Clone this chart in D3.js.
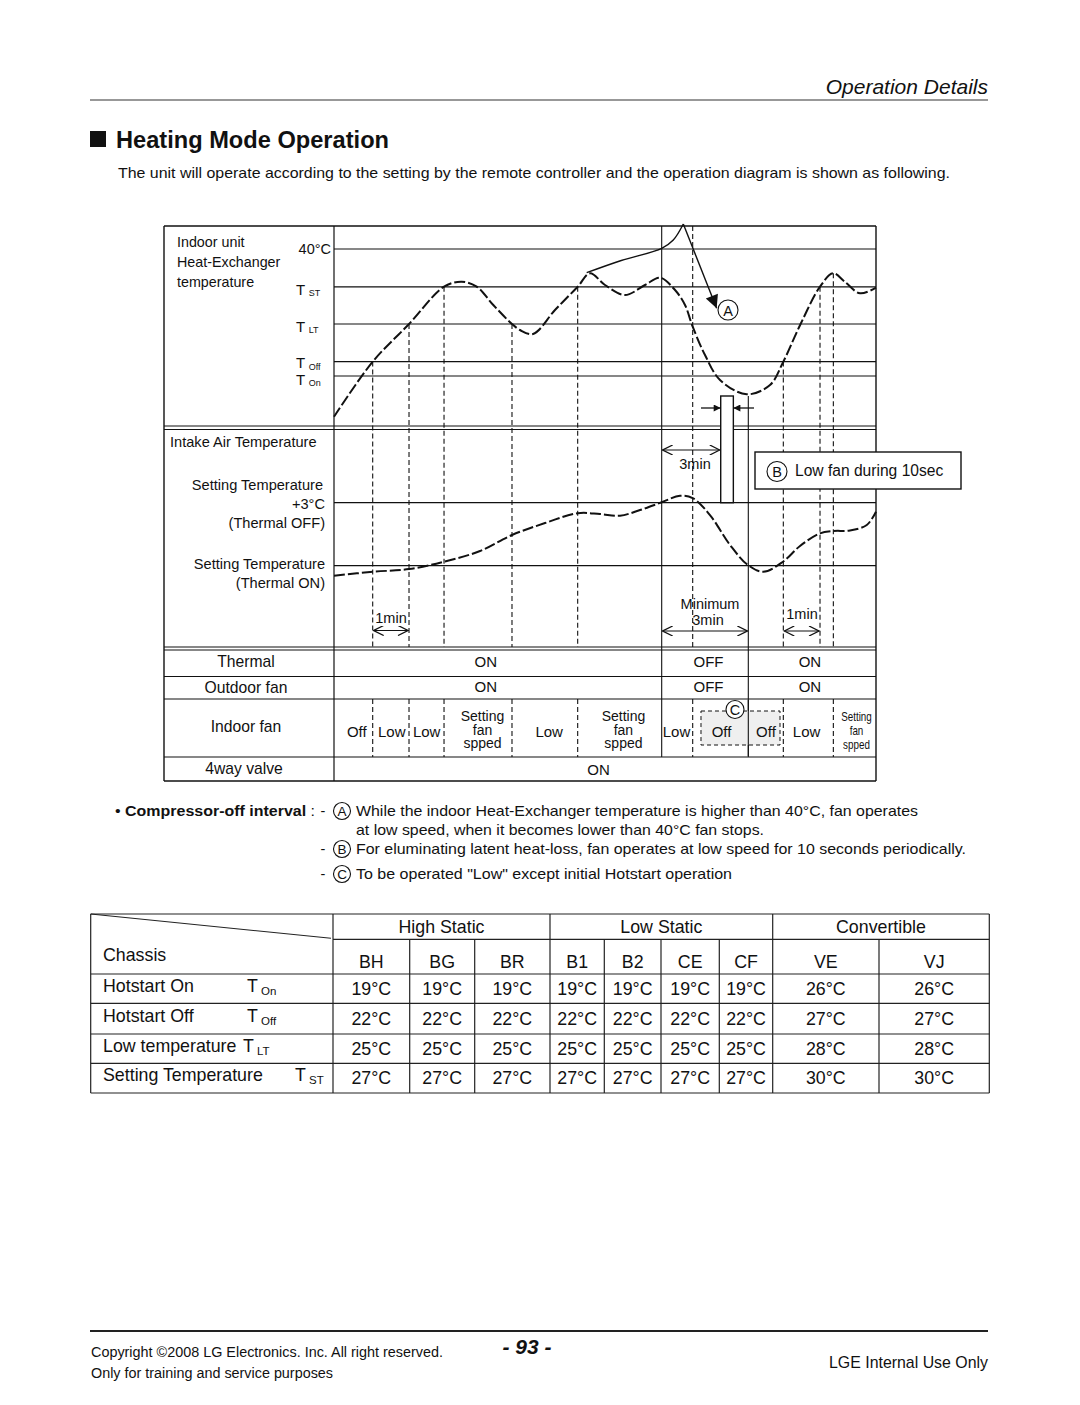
<!DOCTYPE html>
<html><head><meta charset="utf-8">
<script src="https://cdn.jsdelivr.net/npm/d3@7"></script>
<style>
body{margin:0;background:#fff}
svg{display:block}
text{font-family:"Liberation Sans",Arial,Helvetica,sans-serif;fill:#111}
</style>
</head><body>
<svg id="c" width="1080" height="1405"></svg>
<script>
// ---------------- DATA ----------------
// Indoor heat-exchanger temperature (schematic units 0..100 over time 0..100)
const hxLevelNames = ["40°C", "ST", "LT", "Off", "On"];
const hxLevelValues = [88.5, 69.6, 51, 32.2, 25];
const hxTime = [0,7.14,13.84,20.3,23.56,26.33,29.39,32.84,34.32,36.72,40.77,44.96,47.23,50,53.69,57.38,60.15,62.92,64.76,66.18,68.45,71.22,76.14,80.44,82.9,86,89.67,92.07,94.28,97.05,100];
const hxTemp = [4.65,32.15,51,69.65,72.15,69.65,60.5,51,48,46,58,69.65,76.35,70.5,65.5,70.5,74.15,68,60.5,49.65,35.5,23,15.85,20.5,32.15,50.5,69.65,76.35,72,66.35,69.15];
// overheating rise (solid) before compressor off, and arrow toward (A)
const hotTime = [46.62, 53, 60.46, 62.6, 64.45];
const hotTemp = [76.65, 82.75, 88.85, 93, 101];
const arrowA = [[64.45, 101], [70.6, 58.85]];

// Intake air temperature, °C relative to setting temperature
const intakeLevelNames = ["+3°C", "0"];
const intakeLevelValues = [3, 0];
const intakeTime = [0,7.2,13.84,20.3,26.94,32.84,38.93,44.96,49.08,52.77,56.46,60.46,63.84,66.18,69.37,73.06,76.38,79.21,82.84,85.98,89.67,92.07,95.2,98.3,100];
const intakeTemp = [-0.48,-0.29,-0.16,0.19,0.7,1.46,2.03,2.5,2.46,2.38,2.65,3.02,3.33,3.22,2.41,0.99,0.03,-0.29,0.19,0.94,1.54,1.65,1.68,1.94,2.57];

// Event (time) lines
const eventTime  = [7.14, 13.84, 20.3, 32.84, 44.96, 60.46, 66.18, 76.44, 82.9, 89.67, 92.13];
const eventSolid = [0,0,0,0,0,1,0,1,0,0,0];
const eventFrom  = [32.2, 51, 69.6, 51, 69.6, 100, 100, 15, 32.2, 69.6, 76.35]; // HX units where line starts
const eventInFanRow = [1,1,1,1,1,1,1,1,1,0,1];

// Pulse (low fan 10 sec)
const pulseTime = [71.35, 73.68];

// Status rows
const thermalTime = [28, 69.1, 87.8];
const thermalLabel = ["ON", "OFF", "ON"];
const outdoorTime = [28, 69.1, 87.8];
const outdoorLabel = ["ON", "OFF", "ON"];
const fanTime = [4.2, 10.65, 17.1, 27.4, 39.7, 53.4, 63.2, 71.5, 79.7, 87.2, 96.4];
const fanLabel = ["Off","Low","Low","Setting\nfan\nspped","Low","Setting\nfan\nspped","Low","Off","Off","Low","Setting\nfan\nspped"];
const valveTime = [48.8];
const valveLabel = ["ON"];
const cBoxTime = [67.71, 82.29];

// Notes
const notesLetters = ["A", "", "B", "C"];
const notesText = [
  "While the indoor Heat-Exchanger temperature is higher than 40°C, fan operates",
  "at low speed, when it becomes lower than 40°C fan stops.",
  "For eluminating latent heat-loss, fan operates at low speed for 10 seconds periodically.",
  "To be operated \"Low\" except initial Hotstart operation"
];

// Table
const groupNames = ["High Static", "Low Static", "Convertible"];
const groupSpan = [3, 4, 2];
const chassis = ["BH","BG","BR","B1","B2","CE","CF","VE","VJ"];
const rowNames = ["Hotstart On", "Hotstart Off", "Low temperature", "Setting Temperature"];
const rowSymbols = ["On", "Off", "LT", "ST"];
const hotstartOn  = [19,19,19,19,19,19,19,26,26];
const hotstartOff = [22,22,22,22,22,22,22,27,27];
const lowTemp     = [25,25,25,25,25,25,25,28,28];
const settingTemp = [27,27,27,27,27,27,27,30,30];

// ---------------- DRAW ----------------
const svg = d3.select("#c");
svg.append("rect").attr("width",1080).attr("height",1405).attr("fill","#fff");
const ink = "#111";

function T(x, y, s, o = {}) {
  const t = svg.append("text").attr("x", x).attr("y", y).attr("dy", "0.35em")
    .attr("font-size", o.size || 14).attr("text-anchor", o.anchor || "start").text(s);
  if (o.weight) t.attr("font-weight", o.weight);
  if (o.style) t.attr("font-style", o.style);
  if (o.len) t.attr("textLength", o.len).attr("lengthAdjust", "spacingAndGlyphs");
  return t;
}
function L(x1, y1, x2, y2, w = 1.2, dash = null, col = ink) {
  const l = svg.append("line").attr("x1",x1).attr("y1",y1).attr("x2",x2).attr("y2",y2)
    .attr("stroke", col).attr("stroke-width", w);
  if (dash) l.attr("stroke-dasharray", dash);
  return l;
}
function TSub(x, y, main, sub, size = 14, subSize = 9) {
  T(x, y, main, {size});
  T(x + size * 0.85, y + size * 0.22, sub, {size: subSize});
}
function circ(cx, cy, r, letter, size = 14) {
  svg.append("circle").attr("cx",cx).attr("cy",cy).attr("r",r).attr("fill","#fff").attr("stroke",ink).attr("stroke-width",1.1);
  T(cx, cy + 0.5, letter, {size, anchor: "middle"});
}

// Page header
T(988, 87, "Operation Details", {size: 21, anchor: "end", style: "italic"});
L(90, 100, 988, 100, 1.2, null, "#333");
svg.append("rect").attr("x", 90).attr("y", 131).attr("width", 16).attr("height", 16).attr("fill", ink);
T(116, 140, "Heating Mode Operation", {size: 23.5, weight: "bold", len: 273});
T(118, 173, "The unit will operate according to the setting by the remote controller and the operation diagram is shown as following.", {size: 15, len: 832});

// Diagram frame
const X0 = 164, X1 = 876, XD = 334;
const x = d3.scaleLinear().domain([0, 100]).range([XD, X1]);
const hxY = d3.scaleLinear().domain([0, 100]).range([426, 226]);
const inY = d3.scaleLinear().domain([-3.92, 6.51]).range([648, 429]);

const rowY = {fanTop: 699, fanBot: 757, bot: 781};
// horizontal structure lines
L(X0, 226, X1, 226, 1.4);
L(X0, 426, X1, 426, 1.2);
L(X0, 429.5, X1, 429.5, 1.2);
L(X0, 647, X1, 647, 1.2);
L(X0, 650, X1, 650, 1.2);
L(X0, 676.5, X1, 676.5, 1.2);
L(X0, 699, X1, 699, 1.2);
L(X0, 757, X1, 757, 1.2);
L(X0, 781, X1, 781, 1.6);
L(X0, 226, X0, 781, 1.4);
L(X1, 226, X1, 781, 1.4);
L(XD, 226, XD, 781, 1.2);

// HX level lines & labels
hxLevelValues.forEach((v, i) => {
  L(XD, hxY(v), X1, hxY(v), 1.2);
});
T(331, hxY(hxLevelValues[0]), hxLevelNames[0], {anchor: "end", size: 14.5});
[1,2,3,4].forEach(i => {
  const yy = hxY(hxLevelValues[i]) + (i === 4 ? 4 : (i === 3 ? 1.5 : 3));
  TSub(296, yy, "T", hxLevelNames[i], 15, 9);
});
T(177, 241.5, "Indoor unit", {size: 14.3});
T(177, 261.5, "Heat-Exchanger", {size: 14.3});
T(177, 281.5, "temperature", {size: 14.3});

// intake levels & labels
intakeLevelValues.forEach(v => L(XD, inY(v), X1, inY(v), 1.2));
T(170, 442, "Intake Air Temperature", {size: 14.6});
T(323, 485, "Setting Temperature", {size: 14.6, anchor: "end"});
T(325, 504, "+3°C", {size: 14.6, anchor: "end"});
T(325, 523, "(Thermal OFF)", {size: 14.6, anchor: "end"});
T(325, 564, "Setting Temperature", {size: 14.6, anchor: "end"});
T(325, 583, "(Thermal ON)", {size: 14.6, anchor: "end"});

// Event lines
eventTime.forEach((t, i) => {
  const xx = x(t);
  const y0 = eventFrom[i] >= 100 ? 226 : hxY(eventFrom[i]);
  const dash = eventSolid[i] ? null : "5,3";
  if (eventSolid[i]) {
    L(xx, y0, xx, rowY.fanBot, 1.1);
  } else {
    L(xx, y0, xx, 647, 1.1, dash);
    if (eventInFanRow[i]) L(xx, rowY.fanTop, xx, rowY.fanBot, 1.1, dash);
  }
});

// Curves
const lineHX = d3.line().x(d => x(d[0])).y(d => hxY(d[1])).curve(d3.curveCatmullRom.alpha(0.5));
svg.append("path").attr("d", lineHX(d3.zip(hxTime, hxTemp))).attr("fill","none")
  .attr("stroke", ink).attr("stroke-width", 2).attr("stroke-dasharray", "11,3");
svg.append("path").attr("d", lineHX(d3.zip(hotTime, hotTemp))).attr("fill","none")
  .attr("stroke", ink).attr("stroke-width", 1.4);

const defs = svg.append("defs");
function marker(id, w, h) {
  defs.append("marker").attr("id", id).attr("viewBox", "0 0 10 10").attr("refX", 10).attr("refY", 5)
    .attr("markerWidth", w).attr("markerHeight", h).attr("markerUnits", "userSpaceOnUse").attr("orient", "auto-start-reverse")
    .append("path").attr("d", "M0,0 L10,5 L0,10 Z").attr("fill", ink);
}
marker("big", 17, 13);
marker("sm", 9, 7);
function openMarker(id) {
  defs.append("marker").attr("id", id).attr("viewBox", "0 0 10 10").attr("refX", 10).attr("refY", 5)
    .attr("markerWidth", 12).attr("markerHeight", 10).attr("markerUnits", "userSpaceOnUse").attr("orient", "auto-start-reverse")
    .append("path").attr("d", "M0,0 L10,5 L0,10").attr("fill", "none").attr("stroke", ink).attr("stroke-width", 1.3);
}
openMarker("open");

svg.append("line").attr("x1", x(arrowA[0][0])).attr("y1", hxY(arrowA[0][1]))
  .attr("x2", x(arrowA[1][0])).attr("y2", hxY(arrowA[1][1])).attr("stroke", ink).attr("stroke-width", 1.4)
  .attr("marker-end", "url(#big)");
circ(728, 310, 10, "A", 14.5);

const lineIn = d3.line().x(d => x(d[0])).y(d => inY(d[1])).curve(d3.curveCatmullRom.alpha(0.5));
svg.append("path").attr("d", lineIn(d3.zip(intakeTime, intakeTemp))).attr("fill","none")
  .attr("stroke", ink).attr("stroke-width", 2).attr("stroke-dasharray", "11,3");

// pulse rectangle
svg.append("rect").attr("x", x(pulseTime[0])).attr("y", hxY(15)).attr("width", x(pulseTime[1]) - x(pulseTime[0]))
  .attr("height", inY(3) - hxY(15)).attr("fill", "#fff").attr("stroke", ink).attr("stroke-width", 1.4);
svg.append("line").attr("x1", 701).attr("y1", 408).attr("x2", x(pulseTime[0])).attr("y2", 408)
  .attr("stroke", ink).attr("stroke-width", 1.3).attr("marker-end", "url(#sm)");
svg.append("line").attr("x1", 754).attr("y1", 408).attr("x2", x(pulseTime[1])).attr("y2", 408)
  .attr("stroke", ink).attr("stroke-width", 1.3).attr("marker-end", "url(#sm)");

// span arrows
function span(t0, t1, yy) {
  svg.append("line").attr("x1", x(t0) + 1).attr("y1", yy).attr("x2", x(t1) - 1).attr("y2", yy)
    .attr("stroke", ink).attr("stroke-width", 1.2).attr("marker-start", "url(#open)").attr("marker-end", "url(#open)");
}
span(60.46, pulseTime[0], 450);
T(695, 464, "3min", {size: 14.5, anchor: "middle"});
span(7.14, 13.84, 630.5);
T(391, 618, "1min", {size: 14.5, anchor: "middle"});
span(60.46, 76.44, 631);
T(710, 604, "Minimum", {size: 14.5, anchor: "middle"});
T(708, 620, "3min", {size: 14.5, anchor: "middle"});
span(82.9, 89.67, 631);
T(802, 614, "1min", {size: 14.5, anchor: "middle"});

// B box
svg.append("rect").attr("x", 755).attr("y", 452).attr("width", 206).attr("height", 37)
  .attr("fill", "#fff").attr("stroke", ink).attr("stroke-width", 1.4);
circ(777, 471.5, 10, "B", 14.5);
T(795, 471, "Low fan during 10sec", {size: 15.6});

// Status rows
T(246, 662, "Thermal", {size: 15.7, anchor: "middle"});
T(246, 688, "Outdoor fan", {size: 15.7, anchor: "middle"});
T(246, 727, "Indoor fan", {size: 15.7, anchor: "middle"});
T(244, 769, "4way valve", {size: 15.7, anchor: "middle"});
thermalTime.forEach((t, i) => T(x(t), 662, thermalLabel[i], {size: 15, anchor: "middle"}));
outdoorTime.forEach((t, i) => T(x(t), 687, outdoorLabel[i], {size: 15, anchor: "middle"}));
valveTime.forEach((t, i) => T(x(t), 770, valveLabel[i], {size: 15, anchor: "middle"}));

// C box
svg.append("rect").attr("x", x(cBoxTime[0])).attr("y", 711).attr("width", x(cBoxTime[1]) - x(cBoxTime[0])).attr("height", 34)
  .attr("fill", "#efefef").attr("stroke", ink).attr("stroke-width", 1).attr("stroke-dasharray", "4,3");
L(x(76.44), 700, x(76.44), 756, 1.1);
circ(735, 709.5, 9, "C", 14.5);

fanTime.forEach((t, i) => {
  const parts = fanLabel[i].split("\n");
  if (parts.length === 1) {
    T(x(t), 732, parts[0], {size: 15, anchor: "middle"});
  } else {
    const small = i === fanTime.length - 1;
    const sz = small ? 12 : 14;
    const gap = small ? 14 : 13.5;
    parts.forEach((p, k) => {
      const tt = T(x(t), 716.5 + k * gap, p, {size: sz, anchor: "middle"});
      if (small) tt.attr("transform", `translate(${x(t)},0) scale(0.82,1) translate(${-x(t)},0)`);
    });
  }
});

// Notes
const nt = svg.append("text").attr("x", 115).attr("y", 811).attr("dy", "0.35em").attr("font-size", 14.5)
  .attr("textLength", 200).attr("lengthAdjust", "spacingAndGlyphs");
nt.append("tspan").text("• ");
nt.append("tspan").attr("font-weight", "bold").text("Compressor-off interval");
nt.append("tspan").text(" :");
const noteY = [811, 830, 849, 874];
const noteLen = [562, 408, 610, 376];
notesText.forEach((s, i) => {
  if (notesLetters[i]) {
    T(323, noteY[i], "-", {size: 14.5, anchor: "middle"});
    circ(342, noteY[i], 8.5, notesLetters[i], 13.5);
  }
  T(356, noteY[i], s, {size: 14.5, len: noteLen[i]});
});

// Table
const colX = [90.7, 333, 409.7, 474.7, 550, 604.3, 661, 719.3, 772.7, 879, 989.3];
const rowYs = [914, 939.3, 974, 1003.3, 1034, 1063.3, 1093];
const tc = "#222";
L(colX[0], rowYs[0], colX[10], rowYs[0], 1.2, null, tc);
L(colX[0], rowYs[6], colX[10], rowYs[6], 1.2, null, tc);
L(colX[0], rowYs[0], colX[0], rowYs[6], 1.2, null, tc);
L(colX[10], rowYs[0], colX[10], rowYs[6], 1.2, null, tc);
L(colX[1], rowYs[1], colX[10], rowYs[1], 1.2, null, tc);
for (let r = 2; r < 6; r++) L(colX[0], rowYs[r], colX[10], rowYs[r], 1.2, null, tc);
L(colX[0], rowYs[0], colX[1] - 2, rowYs[1] - 1, 1.1, null, tc);
let gi = 1;
const groupEdges = [1];
groupSpan.forEach(s => { gi += s; groupEdges.push(gi); });
for (let c = 1; c < 10; c++) {
  const y0 = groupEdges.includes(c) ? rowYs[0] : rowYs[1];
  L(colX[c], y0, colX[c], rowYs[6], 1.2, null, tc);
}
const TS = 17.8;
groupNames.forEach((g, i) => {
  const a = colX[groupEdges[i]], b = colX[groupEdges[i + 1]];
  T((a + b) / 2, 926.5, g, {size: TS, anchor: "middle"});
});
T(103, 955, "Chassis", {size: TS});
chassis.forEach((c, i) => T((colX[i + 1] + colX[i + 2]) / 2, 961.5, c, {size: TS, anchor: "middle"}));
const tableVals = [hotstartOn, hotstartOff, lowTemp, settingTemp];
const symX = [247, 247, 243, 295];
rowNames.forEach((n, r) => {
  const cy = (rowYs[r + 2] + rowYs[r + 3]) / 2;
  T(103, cy - 3, n, {size: TS});
  T(symX[r], cy - 3, "T", {size: TS});
  T(symX[r] + 14, cy + 2, rowSymbols[r], {size: 11.5});
  tableVals[r].forEach((v, i) => T((colX[i + 1] + colX[i + 2]) / 2, cy, v + "°C", {size: TS, anchor: "middle"}));
});

// Footer
L(90, 1331, 988, 1331, 2, null, "#222");
T(91, 1352, "Copyright ©2008 LG Electronics. Inc. All right reserved.", {size: 14, len: 352});
T(91, 1373, "Only for training and service purposes", {size: 14, len: 242});
T(527, 1347, "- 93 -", {size: 21, anchor: "middle", weight: "bold", style: "italic"});
T(988, 1362, "LGE Internal Use Only", {size: 15.9, anchor: "end"});
</script>
</body></html>
